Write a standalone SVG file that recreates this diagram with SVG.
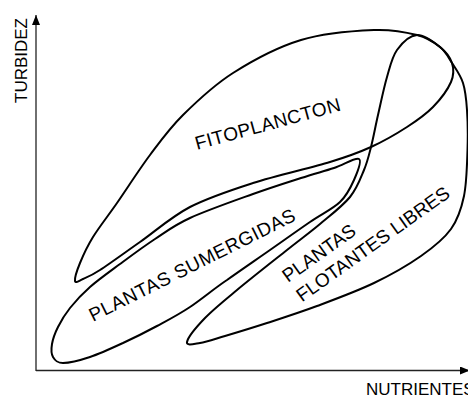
<svg xmlns="http://www.w3.org/2000/svg" width="468" height="396" viewBox="0 0 468 396">
<defs>
<style>
.region{fill:none;stroke:#000;stroke-width:2;stroke-linejoin:round}
.axis{fill:none;stroke:#222;stroke-width:1.3}
.lbl{font-family:"Liberation Sans",Arial,Helvetica,sans-serif;font-size:19px;fill:#000}
.axl{font-family:"Liberation Sans",Arial,Helvetica,sans-serif;font-size:17px;fill:#000}
</style>
<marker id="arr" markerWidth="10" markerHeight="8" refX="10" refY="4" orient="auto" markerUnits="userSpaceOnUse">
<path d="M0,0 L10,4 L0,8 z" fill="#000"/>
</marker>
</defs>
<rect width="468" height="396" fill="#fff"/>
<g id="connectors">
<line class="axis" x1="36" y1="371" x2="36" y2="15" marker-end="url(#arr)"/>
<line class="axis" x1="36" y1="370.5" x2="470" y2="370.5" marker-end="url(#arr)"/>
<text class="axl" x="27" y="103" transform="rotate(-90 27 103)">TURBIDEZ</text>
<text class="axl" x="366" y="395">NUTRIENTES</text>
</g>
<g id="fitoplancton">
<path class="region" d="M75 281 C74.5 278.33 77 270.33 80 263 C83 255.67 86.83 247 93 237 C99.17 227 107.5 216.67 117 203 C126.5 189.33 139 169.67 150 155 C161 140.33 169.17 128.67 183 115 C196.83 101.33 213.33 85.5 233 73 C252.67 60.5 277.5 47.17 301 40 C324.5 32.83 354.67 30.83 374 30 C393.33 29.17 406 32.17 417 35 C428 37.83 434.17 42.33 440 47 C445.830 51.67 450.17 57.17 452 63 C453.83 68.83 454.17 74.67 451 82 C447.83 89.33 440.33 99.5 433 107 C425.67 114.5 417.33 120.33 407 127 C396.67 133.67 383.83 141.17 371 147 C358.17 152.83 349.67 156 330 162 C310.33 168 276.33 175.5 253 183 C229.67 190.5 208.83 197.17 190 207 C171.17 216.83 155 231.5 140 242 C125 252.5 109.5 263.83 100 270 C90.5 276.17 87.17 277.17 83 279 C78.83 280.83 75.5 283.67 75 281 Z"/>
<text class="lbl" x="197" y="150" textLength="150" transform="rotate(-15.3 197 150)">FITOPLANCTON</text>
</g>
<g id="sumergidas">
<path class="region" d="M63 363 C56.83 363 54.83 360.17 53 357 C51.17 353.83 51.17 349 52 344 C52.83 339 55 333 58 327 C61 321 64.67 314.67 70 308 C75.33 301.33 81.67 294.33 90 287 C98.33 279.67 109.17 272 120 264 C130.83 256 143.33 246.67 155 239 C166.67 231.33 173.67 225.5 190 218 C206.33 210.5 234.5 200.67 253 194 C271.5 187.33 287.5 182.33 301 178 C314.5 173.67 324.33 171.17 334 168 C343.67 164.83 355.67 157 359 159 C362.33 161 357.17 172.83 354 180 C350.83 187.17 347.33 195 340 202 C332.67 209 321.67 214 310 222 C298.33 230 283.83 240.33 270 250 C256.17 259.67 240.33 270.5 227 280 C215.33 287.67 201.67 299.17 190 307 C178.33 314.83 168.17 320 157 326 C145.83 332 134.17 337.83 123 343 C111.83 348.17 100 353.67 90 357 C80 360.33 69.17 363 63 363 Z"/>
<text class="lbl" x="93" y="322" textLength="228" transform="rotate(-26.6 93 322)">PLANTAS SUMERGIDAS</text>
</g>
<g id="flotantes">
<path class="region" d="M187 342 C187.83 337.83 196.67 326.67 205 318 C213.33 309.33 223.33 301.33 237 290 C250.67 278.67 273.17 261 287 250 C300.83 239 309.5 232.83 320 224 C330.5 215.17 342.67 206 350 197 C357.33 188 360.5 178.33 364 170 C367.5 161.67 368.67 156.17 371 147 C373.33 137.83 375.33 126.67 378 115 C380.67 103.33 383.83 87.83 387 77 C390.17 66.17 392 57 397 50 C402 43 409.83 35.5 417 35 C424.17 34.5 434.17 42.33 440 47 C445.83 51.67 448.17 57 452 63 C455.83 69 460.5 75.17 463 83 C465.5 90.83 466.25 98.83 467 110 C467.75 121.17 468 135.67 467.5 150 C467 164.33 466.75 182.83 464 196 C461.25 209.17 458.17 219 451 229 C443.830 239 433.83 247 421 256 C408.17 265 391.33 274.67 374 283 C356.67 291.33 334.83 299.33 317 306 C299.17 312.67 282.33 318 267 323 C251.67 328 236.17 332.67 225 336 C213.83 339.33 206.33 342 200 343 C193.67 344 186.17 346.17 187 342 Z"/>
<text class="lbl" transform="rotate(-35.5 288 283)"><tspan x="288" y="283">PLANTAS</tspan><tspan x="288" y="307">FLOTANTES LIBRES</tspan></text>
</g>
</svg>
